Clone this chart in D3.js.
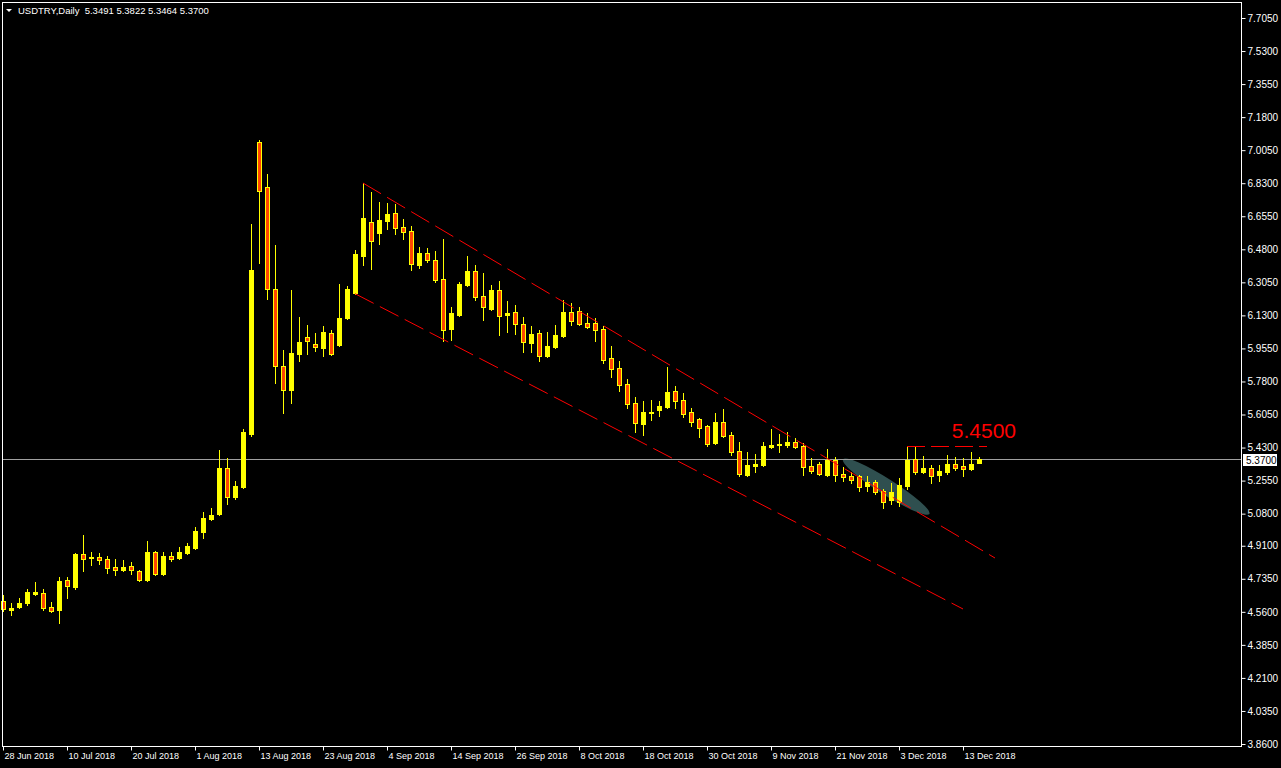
<!DOCTYPE html>
<html><head><meta charset="utf-8">
<script src="https://cdn.jsdelivr.net/npm/d3@7"></script>
<style>html,body{margin:0;padding:0;background:#000;overflow:hidden}</style>
</head><body>
<svg id="c" width="1281" height="768"></svg>
<script>
const symbolTitle = "USDTRY,Daily";
const lastQuote = ["5.3491", "5.3822", "5.3464", "5.3700"];

const opens = [4.617,4.569,4.585,4.607,4.654,4.660,4.585,4.570,4.728,4.691,
4.866,4.845,4.850,4.840,4.797,4.781,4.803,4.776,4.728,4.877,
4.760,4.855,4.845,4.871,4.898,4.982,5.051,5.078,5.322,5.168,
5.221,5.502,7.048,6.810,6.270,5.862,5.735,5.925,6.015,5.979,
5.957,6.037,5.973,6.116,6.248,6.444,6.625,6.566,6.630,6.672,
6.598,6.577,6.397,6.460,6.423,6.323,6.058,6.132,6.291,6.365,
6.232,6.164,6.264,6.132,6.148,6.085,5.984,6.037,5.915,5.963,
6.021,6.148,6.153,6.090,6.090,6.058,5.904,5.851,5.766,5.666,
5.554,5.613,5.629,5.645,5.729,5.682,5.618,5.581,5.544,5.454,
5.565,5.496,5.412,5.284,5.332,5.337,5.433,5.443,5.443,5.459,
5.438,5.332,5.343,5.284,5.364,5.290,5.279,5.279,5.226,5.247,
5.200,5.152,5.141,5.226,5.369,5.300,5.322,5.284,5.300,5.343,
5.332,5.316,5.3491];
const highs = [4.649,4.607,4.633,4.681,4.718,4.681,4.612,4.744,4.744,4.871,
4.967,4.877,4.871,4.855,4.840,4.834,4.824,4.781,4.935,4.882,
4.877,4.877,4.903,4.925,5.009,5.088,5.110,5.417,5.374,5.253,
5.528,6.614,7.059,6.879,6.503,5.947,6.264,6.121,6.079,6.037,
6.074,6.053,6.296,6.285,6.476,6.831,6.784,6.730,6.725,6.720,
6.641,6.603,6.492,6.487,6.471,6.535,6.174,6.307,6.444,6.397,
6.354,6.291,6.312,6.206,6.185,6.121,6.074,6.053,6.042,6.079,
6.211,6.196,6.174,6.142,6.116,6.074,5.968,5.888,5.793,5.698,
5.676,5.682,5.676,5.857,5.756,5.719,5.639,5.586,5.549,5.613,
5.634,5.512,5.459,5.406,5.396,5.459,5.528,5.502,5.512,5.480,
5.454,5.374,5.353,5.422,5.380,5.327,5.300,5.284,5.279,5.258,
5.210,5.242,5.268,5.438,5.433,5.385,5.337,5.337,5.390,5.380,
5.374,5.406,5.3822];
const lows = [4.564,4.543,4.580,4.596,4.649,4.570,4.559,4.501,4.633,4.681,
4.776,4.808,4.813,4.766,4.755,4.776,4.760,4.723,4.725,4.757,
4.757,4.829,4.840,4.866,4.895,4.951,5.046,5.074,5.131,5.157,
5.216,5.491,6.407,6.217,5.772,5.613,5.666,5.888,5.925,5.942,
5.915,5.920,5.970,6.111,6.243,6.397,6.376,6.508,6.588,6.561,
6.535,6.370,6.381,6.413,6.307,5.994,5.999,6.127,6.285,6.211,
6.106,6.161,6.026,6.042,6.032,5.936,5.936,5.888,5.910,5.957,
6.018,6.079,6.079,6.063,5.994,5.878,5.804,5.729,5.639,5.512,
5.496,5.576,5.597,5.639,5.639,5.592,5.544,5.485,5.438,5.449,
5.485,5.390,5.279,5.279,5.300,5.332,5.427,5.406,5.433,5.427,
5.284,5.295,5.284,5.281,5.253,5.253,5.242,5.200,5.200,5.184,
5.110,5.131,5.120,5.210,5.290,5.295,5.242,5.253,5.290,5.311,
5.279,5.311,5.3464];
const closes = [4.575,4.580,4.607,4.665,4.665,4.580,4.564,4.723,4.697,4.866,
4.840,4.850,4.834,4.792,4.781,4.797,4.781,4.728,4.877,4.760,
4.855,4.840,4.877,4.909,4.988,5.057,5.072,5.322,5.168,5.226,
5.512,6.370,6.789,6.270,5.862,5.735,5.931,5.989,5.994,5.963,
6.042,5.925,6.116,6.270,6.455,6.646,6.524,6.635,6.667,6.593,
6.572,6.402,6.460,6.423,6.317,6.053,6.142,6.296,6.365,6.227,
6.174,6.264,6.127,6.142,6.085,5.989,6.032,5.915,5.968,6.026,
6.148,6.100,6.085,6.069,6.053,5.894,5.846,5.761,5.661,5.560,
5.618,5.618,5.650,5.724,5.676,5.608,5.565,5.533,5.449,5.565,
5.491,5.406,5.290,5.337,5.343,5.438,5.443,5.449,5.459,5.433,
5.327,5.306,5.290,5.364,5.284,5.274,5.258,5.221,5.247,5.194,
5.141,5.194,5.231,5.364,5.300,5.322,5.279,5.306,5.343,5.322,
5.316,5.343,5.3700];

const dateLabels = ["28 Jun 2018","10 Jul 2018","20 Jul 2018","1 Aug 2018","13 Aug 2018","23 Aug 2018","4 Sep 2018","14 Sep 2018","26 Sep 2018","8 Oct 2018","18 Oct 2018","30 Oct 2018","9 Nov 2018","21 Nov 2018","3 Dec 2018","13 Dec 2018"];
const dateLabelBars = [0,8,16,24,32,40,48,56,64,72,80,88,96,104,112,120];
const priceTicks = [7.705,7.53,7.355,7.18,7.005,6.83,6.655,6.48,6.305,6.13,5.955,5.78,5.605,5.43,5.255,5.08,4.91,4.735,4.56,4.385,4.21,4.035,3.86];

// drawn objects (bar index, price)
const upperChannelBars = [45, 124];
const upperChannelPrices = [6.831, 4.845];
const lowerChannelBars = [44, 120];
const lowerChannelPrices = [6.245, 4.575];
const levelBars = [113, 123];
const levelPrice = 5.438;
const levelText = "5.4500";
const levelTextBar = 118.6;
const levelTextPrice = 5.48;
const ellipseBars = [105.0, 115.8];
const ellipsePrices = [5.368, 5.078];
const currentPrice = 5.37;

(function () {
const svg = d3.select("#c");
const W = 1281, H = 768;
const pLeft = 2, pTop = 2, pRight = 1241, pBottom = 746;

const x = d3.scaleLinear().domain([0, 122]).range([3, 979]);
const y = d3.scaleLinear().domain([3.86, 7.705]).range([744, 18]);

svg.append("rect").attr("width", W).attr("height", H).attr("fill", "#000");

// ellipse (background object)
{
  const x1 = x(ellipseBars[0]), y1 = y(ellipsePrices[0]);
  const x2 = x(ellipseBars[1]), y2 = y(ellipsePrices[1]);
  const cx = (x1 + x2) / 2, cy = (y1 + y2) / 2;
  const rx = Math.hypot(x2 - x1, y2 - y1) / 2;
  const ang = Math.atan2(y2 - y1, x2 - x1) * 180 / Math.PI;
  svg.append("ellipse").attr("cx", cx).attr("cy", cy).attr("rx", rx).attr("ry", 8)
    .attr("transform", `rotate(${ang},${cx},${cy})`)
    .attr("fill", "#2f4f4f");
}

// current price line
const yCur = Math.round(y(currentPrice)) + 0.5;
svg.append("line").attr("x1", pLeft).attr("x2", pRight)
  .attr("y1", yCur).attr("y2", yCur)
  .attr("stroke", "#a0a0a0").attr("stroke-width", 1);

// candles
const data = opens.map((o, i) => ({i, o, h: highs[i], l: lows[i], c: closes[i]}));
const g = svg.append("g");
data.forEach(d => {
  const cx = Math.round(x(d.i));
  const bull = d.c >= d.o;
  g.append("line").attr("x1", cx + 0.5).attr("x2", cx + 0.5)
    .attr("y1", Math.round(y(d.h))).attr("y2", Math.round(y(d.l)) + 1)
    .attr("stroke", "#ffff00").attr("stroke-width", 1);
  const yt = Math.round(y(Math.max(d.o, d.c)));
  const yb = Math.round(y(Math.min(d.o, d.c)));
  if (bull) {
    g.append("rect").attr("x", cx - 2).attr("y", yt).attr("width", 5).attr("height", Math.max(1, yb - yt + 1))
      .attr("fill", "#ffff00");
  } else {
    g.append("rect").attr("x", cx - 1.5).attr("y", yt + 0.5).attr("width", 4).attr("height", Math.max(0.5, yb - yt))
      .attr("fill", "#ff4500").attr("stroke", "#ffff00").attr("stroke-width", 1);
  }
});

// channel lines
function tline(bars, prices, dash) {
  svg.append("line")
    .attr("x1", x(bars[0])).attr("y1", y(prices[0]))
    .attr("x2", x(bars[1])).attr("y2", y(prices[1]))
    .attr("stroke", "#ff0000").attr("stroke-width", 1)
    .attr("stroke-dasharray", dash);
}
tline(upperChannelBars, upperChannelPrices, "21,7");
tline(lowerChannelBars, lowerChannelPrices, "21,7");
const yLev = Math.round(y(levelPrice)) + 0.5;
svg.append("line")
  .attr("x1", x(levelBars[0])).attr("x2", x(levelBars[1]))
  .attr("y1", yLev).attr("y2", yLev)
  .attr("stroke", "#ff0000").attr("stroke-dasharray", "18,6");
svg.append("text").attr("x", x(levelTextBar)).attr("y", y(levelTextPrice))
  .attr("fill", "#ff0000").attr("font-family", "Arial, 'Liberation Sans', sans-serif")
  .attr("font-size", 21).text(levelText);

// frame
svg.append("rect").attr("x", pLeft + 0.5).attr("y", pTop + 0.5)
  .attr("width", pRight - pLeft).attr("height", pBottom - pTop)
  .attr("fill", "none").attr("stroke", "#fff").attr("stroke-width", 1);

const font = "Tahoma, 'Liberation Sans', Arial, sans-serif";

// y axis
const yAxis = d3.axisRight(y).tickValues(priceTicks).tickFormat(d3.format(".4f")).tickSize(4).tickPadding(2);
const ya = svg.append("g").attr("transform", `translate(${pRight + 0.5},0)`).call(yAxis);
ya.select(".domain").remove();
ya.selectAll(".tick line").attr("stroke", "#fff");
ya.selectAll(".tick text").attr("fill", "#fff").attr("font-family", font).attr("font-size", 10);

// current price label
svg.append("rect").attr("x", 1243).attr("y", yCur - 5.5).attr("width", 34).attr("height", 12).attr("fill", "#fff");
svg.append("text").attr("x", 1246).attr("y", yCur + 4).attr("fill", "#000")
  .attr("font-family", font).attr("font-size", 10).text(d3.format(".4f")(currentPrice));

// x axis
const xAxis = d3.axisBottom(x).tickValues(dateLabelBars).tickFormat((d, i) => dateLabels[i]).tickSize(4).tickPadding(2);
const xa = svg.append("g").attr("transform", `translate(0,${pBottom + 0.5})`).call(xAxis);
xa.select(".domain").remove();
xa.selectAll(".tick line").attr("stroke", "#fff");
xa.selectAll(".tick text").attr("fill", "#fff").attr("font-family", font).attr("font-size", 9)
  .attr("text-anchor", "start").attr("dx", 1);

// title
svg.append("path").attr("d", "M6,9 L12,9 L9,12 Z").attr("fill", "#fff");
svg.append("text").attr("x", 18).attr("y", 14).attr("fill", "#fff")
  .attr("font-family", font).attr("font-size", 9.5)
  .attr("xml:space", "preserve")
  .text(symbolTitle + "  " + lastQuote.join(" "));
})();
</script>
</body></html>
